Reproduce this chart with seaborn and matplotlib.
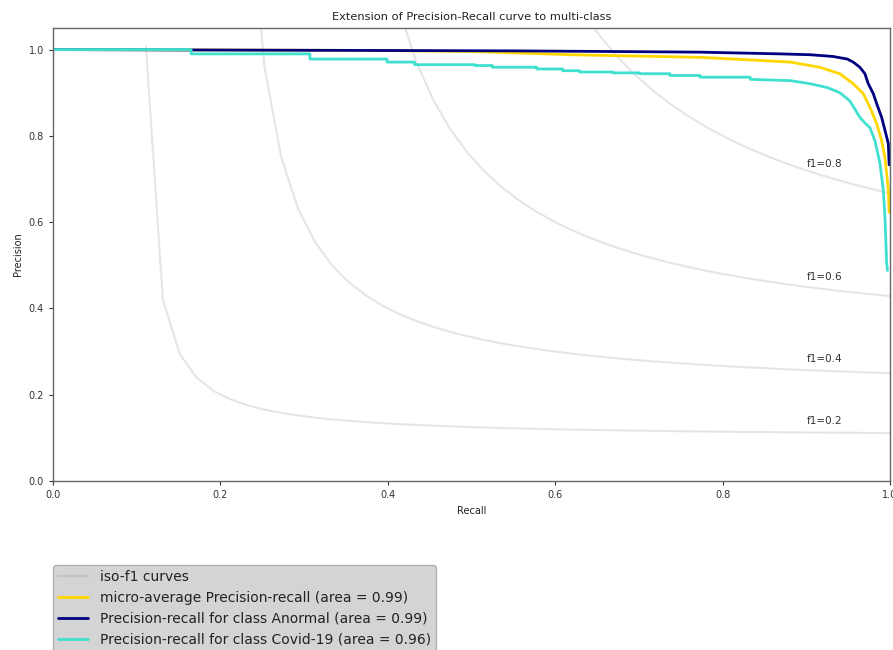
import numpy as np
import pandas as pd
import matplotlib
matplotlib.use("Agg")
import matplotlib.pyplot as plt
import seaborn as sns

# ==========================================
# DATA
# ==========================================
f_scores = [0.2, 0.4, 0.6, 0.8]

micro_recall = [0.0, 0.39, 0.51, 0.62, 0.773, 0.833, 0.881, 0.916, 0.940, 0.956,
                0.968, 0.976, 0.984, 0.990, 0.994, 0.996, 0.998, 0.999]
micro_precision = [1.0, 0.998, 0.995, 0.988, 0.982, 0.976, 0.971, 0.959, 0.944, 0.921,
                   0.898, 0.866, 0.829, 0.789, 0.750, 0.713, 0.674, 0.623]

anormal_recall = [0.0, 0.55, 0.706, 0.773, 0.869, 0.905, 0.932, 0.949, 0.956, 0.964,
                  0.970, 0.974, 0.980, 0.984, 0.990, 0.994, 0.998, 0.999]
anormal_precision = [1.0, 0.997, 0.995, 0.994, 0.990, 0.988, 0.984, 0.978, 0.971, 0.959,
                     0.944, 0.921, 0.898, 0.875, 0.843, 0.813, 0.782, 0.733]

# corners of the small steps in the flat part, then the knee
covid_recall = [0.0, 0.165, 0.165, 0.307, 0.307, 0.399, 0.399, 0.432, 0.432, 0.504,
                0.504, 0.525, 0.525, 0.578, 0.578, 0.609, 0.609, 0.629, 0.629, 0.669,
                0.669, 0.701, 0.701, 0.737, 0.737, 0.773, 0.773, 0.833, 0.833, 0.881,
                0.904, 0.925, 0.940, 0.952, 0.958, 0.964, 0.970, 0.976, 0.982, 0.988,
                0.992, 0.994, 0.996, 0.997]
covid_precision = [1.0, 1.0, 0.990, 0.990, 0.978, 0.978, 0.971, 0.971, 0.965, 0.965,
                   0.963, 0.963, 0.959, 0.959, 0.955, 0.955, 0.951, 0.951, 0.948, 0.948,
                   0.946, 0.946, 0.944, 0.944, 0.940, 0.940, 0.936, 0.936, 0.931, 0.928,
                   0.921, 0.912, 0.900, 0.881, 0.862, 0.843, 0.830, 0.819, 0.789, 0.736,
                   0.674, 0.611, 0.505, 0.488]

curves = [
    ("micro-average Precision-recall (area = 0.99)", micro_recall, micro_precision, "gold"),
    ("Precision-recall for class Anormal (area = 0.99)", anormal_recall, anormal_precision, "navy"),
    ("Precision-recall for class Covid-19 (area = 0.96)", covid_recall, covid_precision, "turquoise"),
]

# ==========================================
# PLOT
# ==========================================
sns.set_style("ticks")
plt.rcParams["font.family"] = ["DejaVu Sans"]

fig = plt.figure(figsize=(8.93, 6.5), dpi=100)
ax = fig.add_axes([53 / 893, 1 - 481 / 650, (890 - 53) / 893, (481 - 28) / 650])

# iso-f1 curves
x = np.linspace(0.01, 1)
for i, f_score in enumerate(f_scores):
    y = f_score * x / (2 * x - f_score)
    sns.lineplot(x=x[y >= 0], y=y[y >= 0], color="gray", alpha=0.2, lw=1.5,
                 sort=False, estimator=None, ax=ax,
                 label="iso-f1 curves" if i == 0 else None)
    ax.annotate("f1={0:0.1f}".format(f_score), xy=(0.9, y[45] + 0.02),
                fontsize=7.5, color="#333333")

for label, rec, prec, color in curves:
    df = pd.DataFrame({"recall": rec, "precision": prec})
    sns.lineplot(data=df, x="recall", y="precision", color=color, lw=2,
                 sort=False, estimator=None, ax=ax, label=label)

ax.set_xlim(0.0, 1.0)
ax.set_ylim(0.0, 1.05)
ax.set_xticks([0.0, 0.2, 0.4, 0.6, 0.8, 1.0])
ax.set_yticks([0.0, 0.2, 0.4, 0.6, 0.8, 1.0])
ax.tick_params(labelsize=7, colors="#333333", length=3, width=0.8)
for sp in ax.spines.values():
    sp.set_color("#666666")
    sp.set_linewidth(1.0)
    sp.set_visible(True)

ax.set_xlabel("Recall", fontsize=7, color="#222222")
ax.set_ylabel("Precision", fontsize=7, color="#222222")
ax.set_title("Extension of Precision-Recall curve to multi-class", fontsize=8.2,
             color="#222222", pad=6)

leg = ax.legend(loc="upper left", bbox_to_anchor=(0.0, -(565 - 481) / 453),
                borderaxespad=0, fontsize=10, handlelength=2.2, borderpad=0.35,
                frameon=True, facecolor="#d4d4d4", edgecolor="#b0b0b0",
                framealpha=1, fancybox=True)
for t in leg.get_texts():
    t.set_color("#222222")

fig.savefig("out.png", dpi=100)
